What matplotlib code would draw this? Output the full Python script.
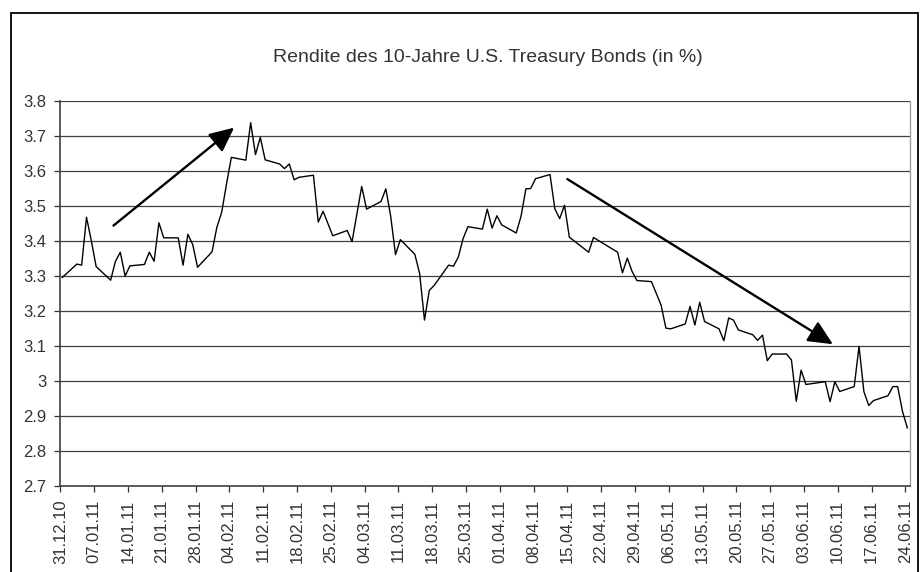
import numpy as np
import pandas as pd
import matplotlib
matplotlib.use("Agg")
import matplotlib.pyplot as plt
import matplotlib.dates as mdates
from matplotlib.patches import Rectangle

# daily closing yield, business days (dd.mm.yy)
dates = [
    "31.12.10",
    "03.01.11", "04.01.11", "05.01.11", "06.01.11", "07.01.11",
    "10.01.11", "11.01.11", "12.01.11", "13.01.11", "14.01.11",
    "17.01.11", "18.01.11", "19.01.11", "20.01.11", "21.01.11",
    "24.01.11", "25.01.11", "26.01.11", "27.01.11", "28.01.11",
    "31.01.11", "01.02.11", "02.02.11", "03.02.11", "04.02.11",
    "07.02.11", "08.02.11", "09.02.11", "10.02.11", "11.02.11",
    "14.02.11", "15.02.11", "16.02.11", "17.02.11", "18.02.11",
    "21.02.11", "22.02.11", "23.02.11", "25.02.11",
    "28.02.11", "01.03.11", "03.03.11", "04.03.11",
    "07.03.11", "08.03.11", "09.03.11", "10.03.11", "11.03.11",
    "14.03.11", "15.03.11", "16.03.11", "17.03.11", "18.03.11",
    "21.03.11", "22.03.11", "23.03.11", "24.03.11", "25.03.11",
    "28.03.11", "29.03.11", "30.03.11", "31.03.11", "01.04.11",
    "04.04.11", "05.04.11", "06.04.11", "07.04.11", "08.04.11",
    "11.04.11", "12.04.11", "13.04.11", "14.04.11", "15.04.11",
    "19.04.11", "20.04.11",
    "25.04.11", "26.04.11", "27.04.11", "28.04.11", "29.04.11",
    "02.05.11", "04.05.11", "05.05.11", "06.05.11",
    "09.05.11", "10.05.11", "11.05.11", "12.05.11", "13.05.11",
    "16.05.11", "17.05.11", "18.05.11", "19.05.11", "20.05.11",
    "23.05.11", "24.05.11", "25.05.11", "26.05.11", "27.05.11",
    "30.05.11", "31.05.11", "01.06.11", "02.06.11", "03.06.11",
    "06.06.11", "07.06.11", "08.06.11", "09.06.11", "10.06.11",
    "13.06.11", "14.06.11", "15.06.11", "16.06.11", "17.06.11",
    "20.06.11", "21.06.11", "22.06.11", "23.06.11", "24.06.11",
]
yields = [
    3.295,
    3.333, 3.330, 3.467, 3.400, 3.326,
    3.287, 3.341, 3.367, 3.299, 3.328,
    3.332, 3.367, 3.341, 3.451, 3.408,
    3.408, 3.330, 3.418, 3.389, 3.324,
    3.368, 3.438, 3.481, 3.562, 3.638,
    3.630, 3.737, 3.646, 3.695, 3.631,
    3.619, 3.606, 3.619, 3.574, 3.581,
    3.587, 3.453, 3.484, 3.414,
    3.429, 3.397, 3.555, 3.490,
    3.512, 3.548, 3.470, 3.360, 3.403,
    3.361, 3.306, 3.173, 3.258, 3.272,
    3.330, 3.327, 3.353, 3.406, 3.440,
    3.433, 3.490, 3.436, 3.471, 3.445,
    3.422, 3.470, 3.548, 3.549, 3.577,
    3.589, 3.491, 3.463, 3.501, 3.410,
    3.367, 3.409,
    3.367, 3.308, 3.350, 3.312, 3.286,
    3.283, 3.216, 3.150, 3.148,
    3.162, 3.212, 3.159, 3.224, 3.169,
    3.148, 3.114, 3.179, 3.173, 3.145,
    3.131, 3.115, 3.130, 3.057, 3.076,
    3.076, 3.059, 2.941, 3.030, 2.989,
    2.995, 2.997, 2.940, 2.997, 2.969,
    2.983, 3.098, 2.969, 2.929, 2.943,
    2.957, 2.983, 2.983, 2.912, 2.865,
]

title = "Rendite des 10-Jahre U.S. Treasury Bonds (in %)"
y_ticks = [2.7, 2.8, 2.9, 3.0, 3.1, 3.2, 3.3, 3.4, 3.5, 3.6, 3.7, 3.8]
y_labels = ["2.7", "2.8", "2.9", "3", "3.1", "3.2", "3.3", "3.4", "3.5", "3.6", "3.7", "3.8"]

# trend arrows (start, end) in (date, yield)
arrow_up = (("11.01.11", 3.443), ("05.02.11", 3.723))
arrow_down = (("15.04.11", 3.576), ("09.06.11", 3.104))

plt.rcParams["font.family"] = ["Liberation Sans", "DejaVu Sans"]

x = pd.to_datetime(dates, format="%d.%m.%y") + pd.Timedelta(hours=10)

fig = plt.figure(figsize=(9.24, 5.72), dpi=100)
ax = fig.add_axes([0.0653, 0.151, 0.9197, 0.673])

for yv in y_ticks[1:]:
    ax.axhline(yv, color="#404040", lw=0.9, zorder=1)

ax.plot(x, yields, color="black", lw=1.0, zorder=3)

for (d0, v0), (d1, v1) in (arrow_up, arrow_down):
    ax.annotate("", xy=(pd.to_datetime(d1, format="%d.%m.%y"), v1),
                xytext=(pd.to_datetime(d0, format="%d.%m.%y"), v0),
                arrowprops=dict(arrowstyle="-|>,head_length=1.5,head_width=0.7",
                                color="black", lw=1.7, shrinkA=0, shrinkB=0),
                zorder=4)

ax.set_ylim(2.7, 3.8)
ax.set_yticks(y_ticks)
ax.set_yticklabels(y_labels)
ax.set_xlim(pd.Timestamp("2010-12-31"), pd.Timestamp("2011-06-25"))
ax.xaxis.set_major_locator(mdates.WeekdayLocator(byweekday=mdates.FR))
ax.xaxis.set_major_formatter(mdates.DateFormatter("%d.%m.%y"))
plt.setp(ax.get_xticklabels(), rotation=90)

ax.tick_params(axis="both", labelsize=12, colors="#333333", length=4, width=0.9)
ax.tick_params(axis="x", pad=6)
ax.tick_params(axis="y", pad=6)
for side in ("left", "bottom"):
    ax.spines[side].set_color("#404040")
    ax.spines[side].set_linewidth(1.2)
ax.spines["top"].set_visible(False)
ax.spines["right"].set_color("#a0a0a0")
ax.spines["right"].set_linewidth(1.0)

fig.text(0.528, 0.9, title, ha="center", va="center", fontsize=14, color="#333333")

fig.patches.append(Rectangle((0.012, -0.02), 0.981, 0.997, transform=fig.transFigure,
                             fill=False, edgecolor="black", lw=1.3))

fig.savefig("out.png", dpi=100)
